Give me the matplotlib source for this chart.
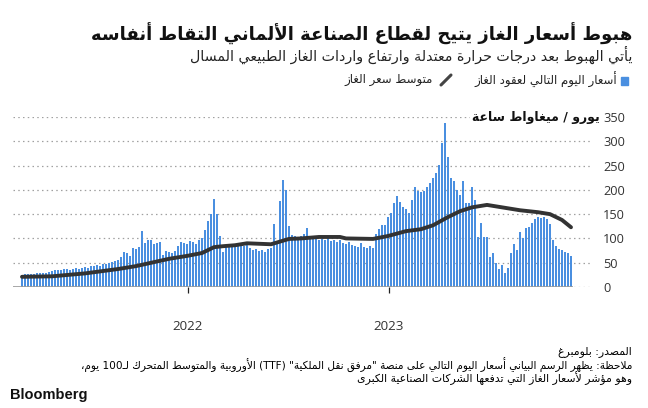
import re
import numpy as np
import matplotlib
matplotlib.use('Agg')
import matplotlib.pyplot as plt
from matplotlib.patches import Rectangle
from matplotlib.lines import Line2D

plt.rcParams['font.family'] = ['DejaVu Sans']

# ── data (one bar every ~3 trading days) ─────────────────────────────
gas_price = [
    25, 26, 26, 27, 27, 28, 28, 29, 29, 31,
    33, 34, 35, 34, 37, 38, 36, 38, 39, 38,
    40, 41, 40, 43, 44, 45, 44, 47, 48, 50,
    52, 54, 56, 62, 72, 70, 63, 80, 78, 82,
    115, 90, 96, 97, 88, 90, 92, 66, 74, 72,
    70, 74, 85, 92, 90, 88, 94, 92, 88, 96,
    100, 118, 135, 150, 181, 150, 105, 72, 82, 88,
    85, 82, 90, 86, 84, 93, 80, 76, 78, 74,
    76, 72, 78, 80, 130, 95, 177, 220, 200, 125,
    108, 106, 103, 104, 110, 121, 104, 100, 98, 97,
    99, 96, 100, 95, 97, 92, 96, 90, 88, 92,
    86, 84, 82, 90, 82, 80, 84, 80, 110, 120,
    127, 128, 144, 152, 172, 187, 175, 165, 160, 152,
    180, 206, 197, 195, 198, 206, 215, 224, 235, 251,
    296, 337, 267, 224, 218, 200, 190, 218, 172, 172,
    206, 180, 103, 132, 103, 103, 62, 70, 50, 38,
    45, 29, 40, 70, 88, 76, 113, 100, 122, 124,
    132, 140, 144, 142, 145, 140, 130, 97, 85, 78,
    76, 72, 70, 64,
]

# 100-day moving average, read at these bar positions
ma_pos = [0, 10, 21, 32, 38, 49, 55, 60, 64, 67, 71, 75, 83, 89, 93, 99,
          106, 108, 117, 122, 128, 133, 137, 142, 146, 150, 155, 162, 166,
          172, 176, 180, 183]
ma_value = [21, 22, 28, 37, 43, 58, 64, 70, 82, 84, 86, 90, 88, 99, 100, 103,
            103, 100, 99, 105, 115, 119, 127, 144, 156, 164, 169, 162, 158,
            154, 150, 138, 123]

year_pos = [55.3, 122.3]
year_labels = ['2022', '2023']
y_ticks = [0, 50, 100, 150, 200, 250, 300, 350]

title = 'هبوط أسعار الغاز يتيح لقطاع الصناعة الألماني التقاط أنفاسه'
subtitle = 'يأتي الهبوط بعد درجات حرارة معتدلة وارتفاع واردات الغاز الطبيعي المسال'
legend_bar = 'أسعار اليوم التالي لعقود الغاز'
legend_line = 'متوسط سعر الغاز'
unit_label = 'يورو / ميغاواط ساعة'
source = 'المصدر: بلومبرغ'
note_1 = 'ملاحظة: يظهر الرسم البياني أسعار اليوم التالي على منصة "مرفق نقل الملكية" (TTF) الأوروبية والمتوسط المتحرك لـ100 يوم،'
note_2 = 'وهو مؤشر لأسعار الغاز التي تدفعها الشركات الصناعية الكبرى'

BLUE = '#4a8fe0'
DARK = '#333333'


# ── minimal Arabic shaping + right-to-left ordering for matplotlib ──
_LETTERS = 'ءآأؤإئابةتثجحخدذرزسشصضطظعغفقكلمنهوىي'
_NFORMS = [1, 2, 2, 2, 2, 4, 2, 4, 2, 4, 4, 4, 4, 4, 2, 2, 2, 2, 4, 4, 4, 4,
           4, 4, 4, 4, 4, 4, 4, 4, 4, 4, 4, 2, 2, 4]
_FORMS = {}
_code = 0xFE80
for _ch, _n in zip(_LETTERS, _NFORMS):
    _FORMS[_ch] = [chr(_code + k) for k in range(_n)]
    _code += _n
_FORMS['ـ'] = ['ـ'] * 4
_LAM_ALEF = {'آ': 0xFEF5, 'أ': 0xFEF7, 'إ': 0xFEF9, 'ا': 0xFEFB}
_MIRROR = str.maketrans('()[]', ')(][')


def _shape(text):
    out = []
    i = 0
    prev_dual = False
    while i < len(text):
        ch = text[i]
        nxt = text[i + 1] if i + 1 < len(text) else ''
        if ch == 'ل' and nxt in _LAM_ALEF:
            out.append(chr(_LAM_ALEF[nxt] + (1 if prev_dual else 0)))
            prev_dual = False
            i += 2
            continue
        if ch not in _FORMS:
            out.append(ch)
            prev_dual = False
            i += 1
            continue
        forms = _FORMS[ch]
        to_next = len(forms) == 4 and len(_FORMS.get(nxt, '')) >= 2
        from_prev = prev_dual and len(forms) >= 2
        if len(forms) == 4 and from_prev and to_next:
            f = 3
        elif len(forms) == 4 and to_next:
            f = 2
        elif from_prev:
            f = 1
        else:
            f = 0
        out.append(forms[f])
        prev_dual = len(forms) == 4
        i += 1
    return ''.join(out)


def ar(text):
    s = _shape(text)
    parts = re.findall(r'[A-Za-z0-9]+(?:[.,][A-Za-z0-9]+)*|[^A-Za-z0-9]+', s)
    out = []
    for p in reversed(parts):
        if re.match(r'[A-Za-z0-9]', p):
            out.append(p)
        else:
            out.append(p[::-1].translate(_MIRROR))
    return ''.join(out)


W, H = 648, 408


def fx(px):
    return px / W


def fy(py):
    return 1 - py / H


fig = plt.figure(figsize=(W / 100, H / 100), dpi=100)
ax = fig.add_axes([fx(13), fy(287), fx(592) - fx(13), fy(117) - fy(287)])

x = np.arange(len(gas_price))
ax.bar(x, gas_price, width=0.82, color=BLUE, linewidth=0, zorder=2)
ax.plot(ma_pos, ma_value, color=DARK, lw=2.8, solid_capstyle='round',
        solid_joinstyle='round', zorder=3)
ax.hlines(0, x[0] - 3, x[-1] + 0.5, color='#9a9a9a', lw=1.2, zorder=4)

ax.set_xlim(-3, 190)
ax.set_ylim(0, 350)
ax.set_yticks(y_ticks)
ax.yaxis.tick_right()
ax.tick_params(axis='y', length=0, pad=8, labelsize=9.2, labelcolor='#333333')
ax.grid(axis='y', linestyle=(0, (1.2, 2.6)), color='#a0a0a0', lw=0.9)
ax.set_axisbelow(True)

ax.set_xticks(year_pos)
ax.set_xticklabels(year_labels)
ax.tick_params(axis='x', length=4.5, width=0.9, color='#222222', pad=19,
               labelsize=9.6, labelcolor='#333333')
for lab in ax.get_xticklabels() + ax.get_yticklabels():
    lab.set_family('Open Sans')
for sp in ax.spines.values():
    sp.set_visible(False)

# unit label sitting on the top gridline
fig.text(fx(600), fy(117), ar(unit_label), ha='right', va='center',
         fontsize=9, fontweight='bold', color='#111111',
         bbox=dict(facecolor='white', edgecolor='none', pad=1.5))

# title block
fig.text(fx(632), fy(34), ar(title), ha='right', va='center',
         fontsize=13, fontweight='bold', color='#111111')
fig.text(fx(632), fy(54.5), ar(subtitle), ha='right', va='center',
         fontsize=10.3, color='#222222')

# legend (right to left)
fig.add_artist(Rectangle((fx(621), fy(85)), fx(7), 8 / H,
                         transform=fig.transFigure, color=BLUE))
fig.text(fx(617), fy(80), ar(legend_bar), ha='right', va='center',
         fontsize=8.5, color='#222222')
fig.add_artist(Line2D([fx(441), fx(451)], [fy(85), fy(75)],
                      transform=fig.transFigure, color='#444444', lw=2.2,
                      solid_capstyle='round'))
fig.text(fx(433), fy(80), ar(legend_line), ha='right', va='center',
         fontsize=8.5, color='#222222')

# footer
fig.text(fx(632), fy(352), ar(source), ha='right', va='center',
         fontsize=7.8, color='#000000')
fig.text(fx(632), fy(365), ar(note_1), ha='right', va='center',
         fontsize=7.6, color='#000000')
fig.text(fx(632), fy(378), ar(note_2), ha='right', va='center',
         fontsize=7.8, color='#000000')
fig.text(fx(10), fy(395), 'Bloomberg', ha='left', va='center',
         fontsize=10.5, fontweight='bold', family='Liberation Sans',
         color='#111111')

fig.savefig('out.png', dpi=100)
